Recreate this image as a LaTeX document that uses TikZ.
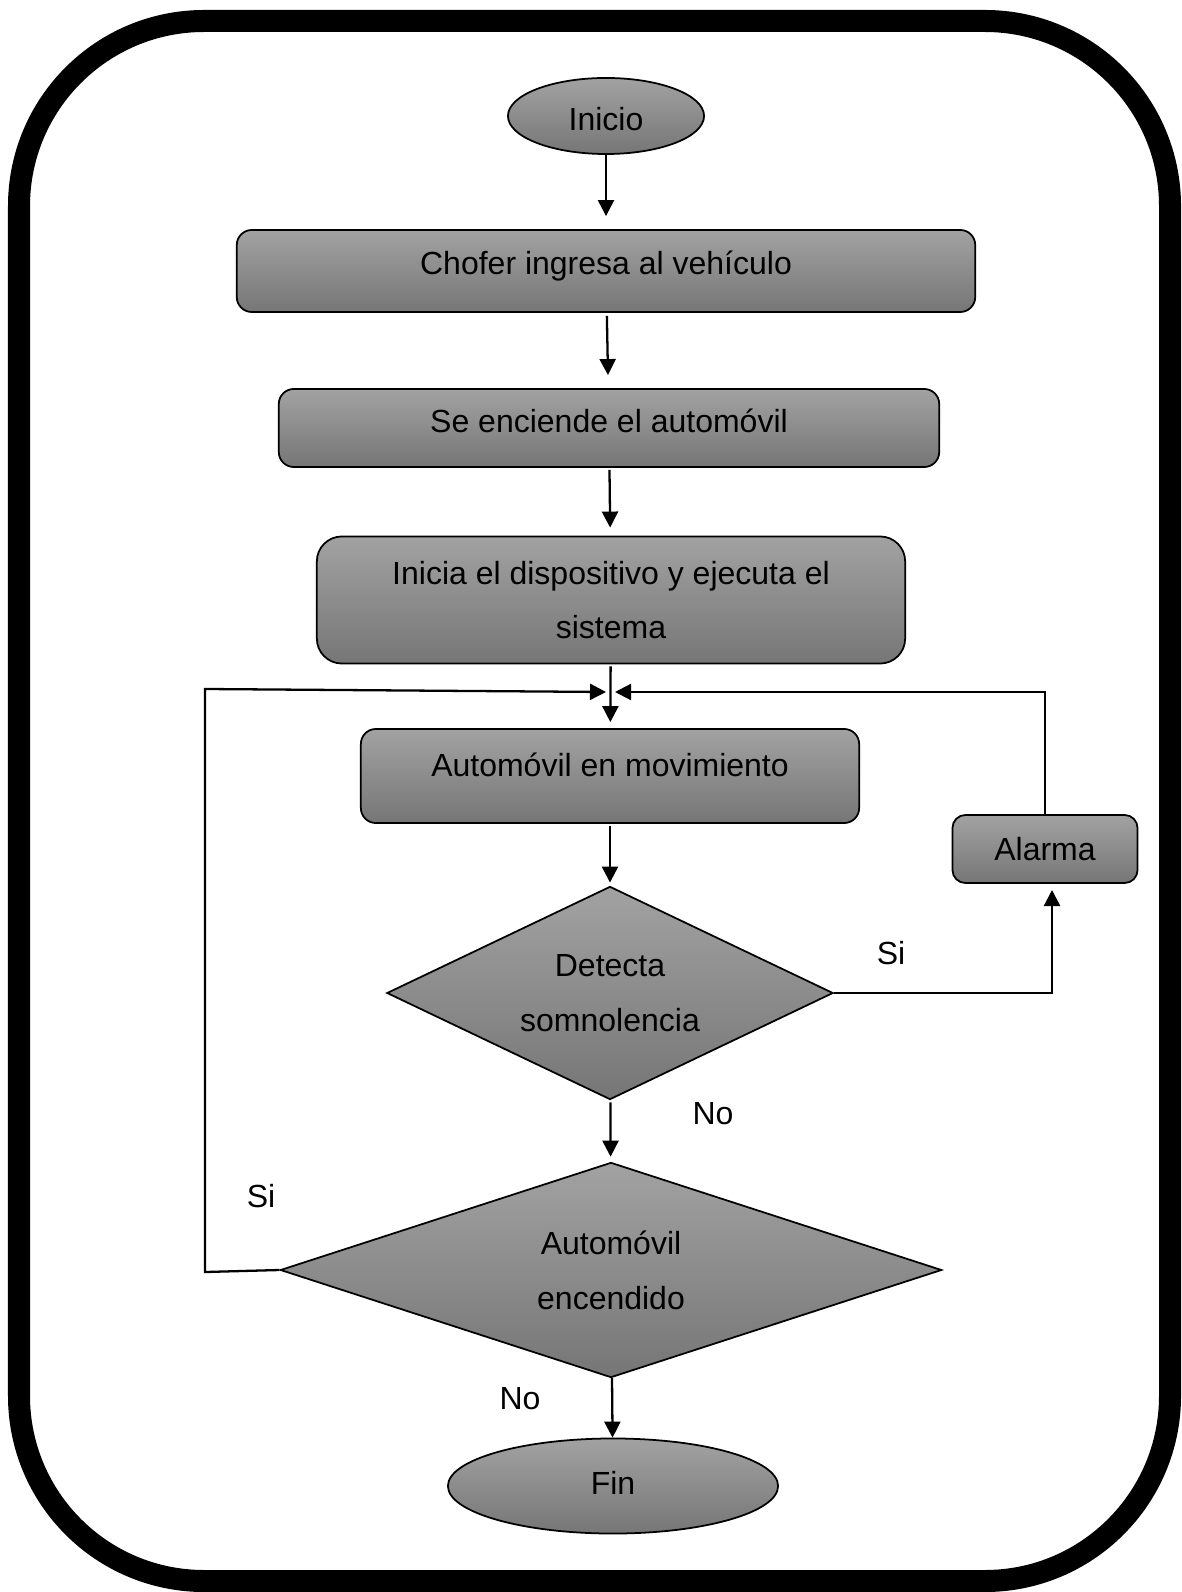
\documentclass[tikz,border=0pt]{standalone}
\usepackage{fontspec}
\setmainfont{Liberation Sans}
\usetikzlibrary{shapes.geometric,arrows.meta}
\definecolor{shadetop}{RGB}{162,162,162}
\definecolor{shadebot}{RGB}{118,118,118}
\begin{document}
\begin{tikzpicture}[x=0.01cm,y=-0.01cm,
  font=\fontsize{9.1pt}{15.6pt}\selectfont,
  filled/.style={draw=black, line width=0.5pt, top color=shadetop, bottom color=shadebot, inner sep=0pt},
  proc/.style={filled, rectangle, rounded corners=0.15cm},
  term/.style={filled, ellipse},
  decision/.style={filled, diamond, aspect=2.1, align=center},
  flow/.style={line width=0.65pt, -{Triangle[length=1.6mm,width=1.6mm]}},
  tag/.style={inner sep=0pt}]
\useasboundingbox (0,0) rectangle (1181,1592);
% outer frame
\draw[line width=0.22cm, rounded corners=1.85cm] (19,21) rectangle (1170,1581);

% nodes
\node[term, minimum width=1.96cm, minimum height=0.76cm, text height=0.29cm, text depth=0cm]
  (inicio) at (606,116) {Inicio};
\node[proc, minimum width=7.38cm, minimum height=0.82cm, text height=0.23cm, text depth=0.15cm]
  (chofer) at (606,271) {Chofer ingresa al vehículo};
\node[proc, minimum width=6.60cm, minimum height=0.78cm, text height=0.23cm, text depth=0.13cm]
  (enciende) at (609,428) {Se enciende el automóvil};
\node[proc, rounded corners=0.25cm, align=center, minimum width=5.88cm, minimum height=1.27cm]
  (sistema) at (611,600) {Inicia el dispositivo y ejecuta el\\sistema};
\node[proc, minimum width=4.98cm, minimum height=0.94cm, text height=0.2cm, text depth=0.2cm]
  (movimiento) at (610,776) {Automóvil en movimiento};
\node[proc, rounded corners=0.13cm, minimum width=1.85cm, minimum height=0.68cm]
  (alarma) at (1045,849) {Alarma};
\node[decision, minimum width=4.46cm, minimum height=2.13cm]
  (somno) at (610,993) {Detecta\\somnolencia};
\node[decision, minimum width=6.61cm, minimum height=2.15cm]
  (encendido) at (611,1270) {Automóvil\\encendido};
\node[term, minimum width=3.30cm, minimum height=0.95cm, text height=0.23cm, text depth=0.06cm]
  (fin) at (613,1486) {Fin};

% branch labels
\node[tag] (si1) at (891,953) {Si};
\node[tag] (no1) at (713,1114) {No};
\node[tag] (si2) at (261,1196) {Si};
\node[tag] (no2) at (520,1399) {No};

% helper points for the loops
\coordinate (jl) at (606,692);
\coordinate (jr) at (615,692);
\coordinate (lt) at (205,689);
\coordinate (lb) at (205,1272);
\coordinate (sc) at (1052,993);
\coordinate (st) at (1052,883);

% main flow
\draw[flow, shorten >=0.13cm] (inicio) -- (chofer);
\draw[flow, shorten <=0.03cm, shorten >=0.13cm] (chofer) -- (enciende);
\draw[flow, shorten <=0.02cm, shorten >=0.08cm] (enciende) -- (sistema);
\draw[flow, shorten <=0.02cm, shorten >=0.06cm] (sistema) -- (movimiento);
\draw[flow, shorten <=0.02cm, shorten >=0.03cm] (movimiento) -- (somno);
\draw[flow, shorten <=0.02cm, shorten >=0.05cm] (somno) -- (encendido);
\draw[flow] (encendido) -- (fin);

% alarm branch and return loops
\draw[flow, shorten >=0.07cm] (somno.east) -- (sc) -- (st);
\draw[flow] (alarma.north) |- (jr);
\draw[flow] (encendido.west) -- (lb) -- (lt) -- (jl);
\end{tikzpicture}
\end{document}
